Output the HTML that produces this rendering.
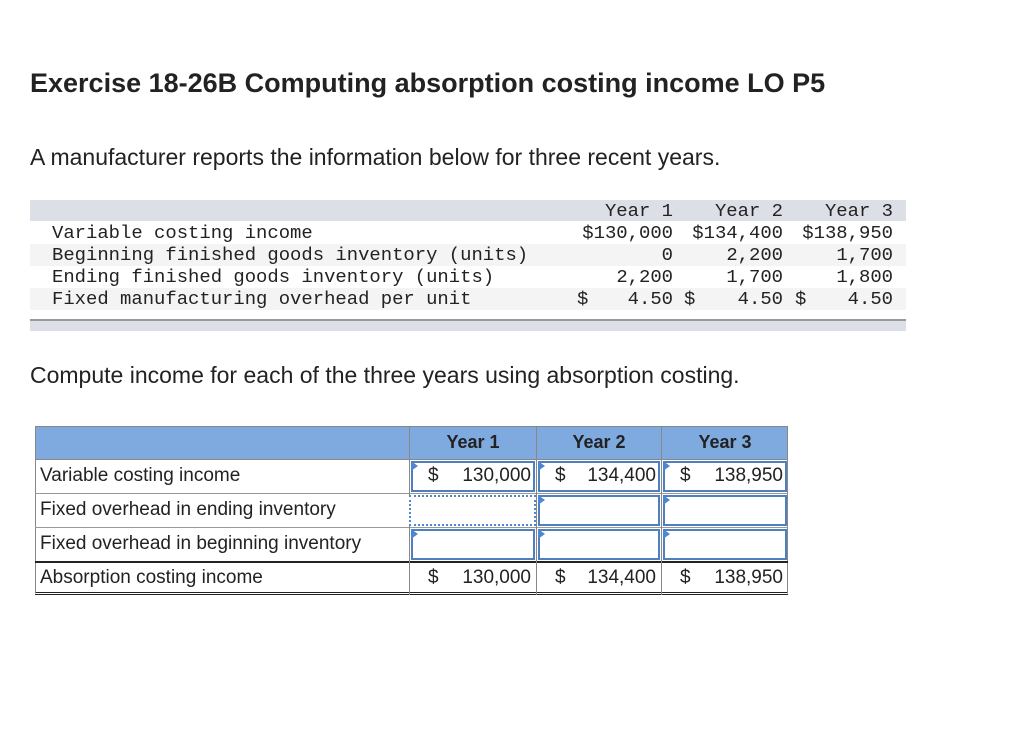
<!DOCTYPE html>
<html><head><meta charset="utf-8"><style>
body{margin:0;width:1024px;height:730px;background:#fff;position:relative;font-family:"Liberation Sans",sans-serif;color:#222;overflow:hidden}
.a{position:absolute;white-space:pre}
.m{font-family:"Liberation Mono",monospace;font-size:18.9px;letter-spacing:0;color:#222}
.r{text-align:right}
.c{position:absolute;box-sizing:border-box;font-size:18px}
.in{position:absolute;box-sizing:border-box;border:2px solid #4f7fbf;background:#fff}
.tri{position:absolute;width:0;height:0;border-top:5px solid transparent;border-bottom:5px solid transparent;border-left:7px solid #4f86d0}
.t{font-size:19px}
</style></head><body>
<div class="a" style="left:30px;top:68px;font-size:27px;font-weight:bold;color:#222">Exercise 18-26B Computing absorption costing income LO P5</div>
<div class="a" style="left:30px;top:144px;font-size:23px">A manufacturer reports the information below for three recent years.</div>

<div>
<div class="a" style="left:30px;top:200px;width:876px;height:21px;background:#dcdfe6"></div>
<div class="a" style="left:30px;top:244px;width:876px;height:22px;background:#f4f4f4"></div>
<div class="a" style="left:30px;top:288px;width:876px;height:22px;background:#f4f4f4"></div>
<div class="a" style="left:30px;top:319px;width:876px;height:10px;background:#dcdfe6;border-top:2px solid #999"></div>
<div class="a m" style="left:52px;top:222px;line-height:22px">Variable costing income
Beginning finished goods inventory (units)
Ending finished goods inventory (units)
Fixed manufacturing overhead per unit</div>
<div class="a m r" style="left:560px;width:113px;top:200px;line-height:22px">Year 1
$130,000
0
2,200
4.50</div>
<div class="a m r" style="left:670px;width:113px;top:200px;line-height:22px">Year 2
$134,400
2,200
1,700
4.50</div>
<div class="a m r" style="left:780px;width:113px;top:200px;line-height:22px">Year 3
$138,950
1,700
1,800
4.50</div>
<div class="a m" style="left:577px;top:288px;line-height:22px">$</div>
<div class="a m" style="left:684px;top:288px;line-height:22px">$</div>
<div class="a m" style="left:795px;top:288px;line-height:22px">$</div>
</div>

<div class="a" style="left:30px;top:362px;font-size:23px">Compute income for each of the three years using absorption costing.</div>

<div>
<div class="c" style="left:35px;top:426px;width:753px;height:34px;background:#7eaae0;border:1px solid #888"></div>
<div class="c" style="left:409px;top:426px;width:127px;height:34px;border-left:1px solid #888;font-weight:bold;text-align:center;line-height:32px">Year 1</div>
<div class="c" style="left:536px;top:426px;width:125px;height:34px;border-left:1px solid #888;font-weight:bold;text-align:center;line-height:32px">Year 2</div>
<div class="c" style="left:661px;top:426px;width:127px;height:34px;border-left:1px solid #888;font-weight:bold;text-align:center;line-height:32px">Year 3</div>
<div class="c" style="left:35px;top:459px;width:753px;height:136px;border:1px solid #888;border-top:none;border-bottom:3px double #222"></div>
<div class="c" style="left:35px;top:493px;width:753px;height:1px;background:#999"></div>
<div class="c" style="left:35px;top:527px;width:753px;height:1px;background:#999"></div>
<div class="c" style="left:35px;top:561px;width:753px;height:2px;background:#222"></div>
<div class="c" style="left:409px;top:459px;width:1px;height:136px;background:#888"></div>
<div class="c" style="left:536px;top:459px;width:1px;height:136px;background:#888"></div>
<div class="c" style="left:661px;top:459px;width:1px;height:136px;background:#888"></div>
<div class="a t" style="left:40px;top:465px">Variable costing income</div>
<div class="a t" style="left:40px;top:499px">Fixed overhead in ending inventory</div>
<div class="a t" style="left:40px;top:533px">Fixed overhead in beginning inventory</div>
<div class="a t" style="left:40px;top:567px">Absorption costing income</div>

<div class="in" style="left:411px;top:461px;width:124px;height:31px"></div>
<div class="in" style="left:538px;top:461px;width:122px;height:31px"></div>
<div class="in" style="left:663px;top:461px;width:124px;height:31px"></div>
<div class="in" style="left:409px;top:495px;width:127px;height:31px;border:2px dotted #4f86d0"></div>
<div class="in" style="left:538px;top:495px;width:122px;height:31px"></div>
<div class="in" style="left:663px;top:495px;width:124px;height:31px"></div>
<div class="in" style="left:411px;top:529px;width:124px;height:31px"></div>
<div class="in" style="left:538px;top:529px;width:122px;height:31px"></div>
<div class="in" style="left:663px;top:529px;width:124px;height:31px"></div>
<div class="tri" style="left:411px;top:461px"></div><div class="tri" style="left:538px;top:461px"></div><div class="tri" style="left:663px;top:461px"></div>
<div class="tri" style="left:538px;top:495px"></div><div class="tri" style="left:663px;top:495px"></div>
<div class="tri" style="left:411px;top:529px"></div><div class="tri" style="left:538px;top:529px"></div><div class="tri" style="left:663px;top:529px"></div>

<div class="a t" style="left:428px;top:465px">$</div><div class="a r t" style="left:420px;width:111px;top:465px">130,000</div>
<div class="a t" style="left:555px;top:465px">$</div><div class="a r t" style="left:545px;width:111px;top:465px">134,400</div>
<div class="a t" style="left:680px;top:465px">$</div><div class="a r t" style="left:672px;width:111px;top:465px">138,950</div>
<div class="a t" style="left:428px;top:567px">$</div><div class="a r t" style="left:420px;width:111px;top:567px">130,000</div>
<div class="a t" style="left:555px;top:567px">$</div><div class="a r t" style="left:545px;width:111px;top:567px">134,400</div>
<div class="a t" style="left:680px;top:567px">$</div><div class="a r t" style="left:672px;width:111px;top:567px">138,950</div>
</div>
</body></html>
